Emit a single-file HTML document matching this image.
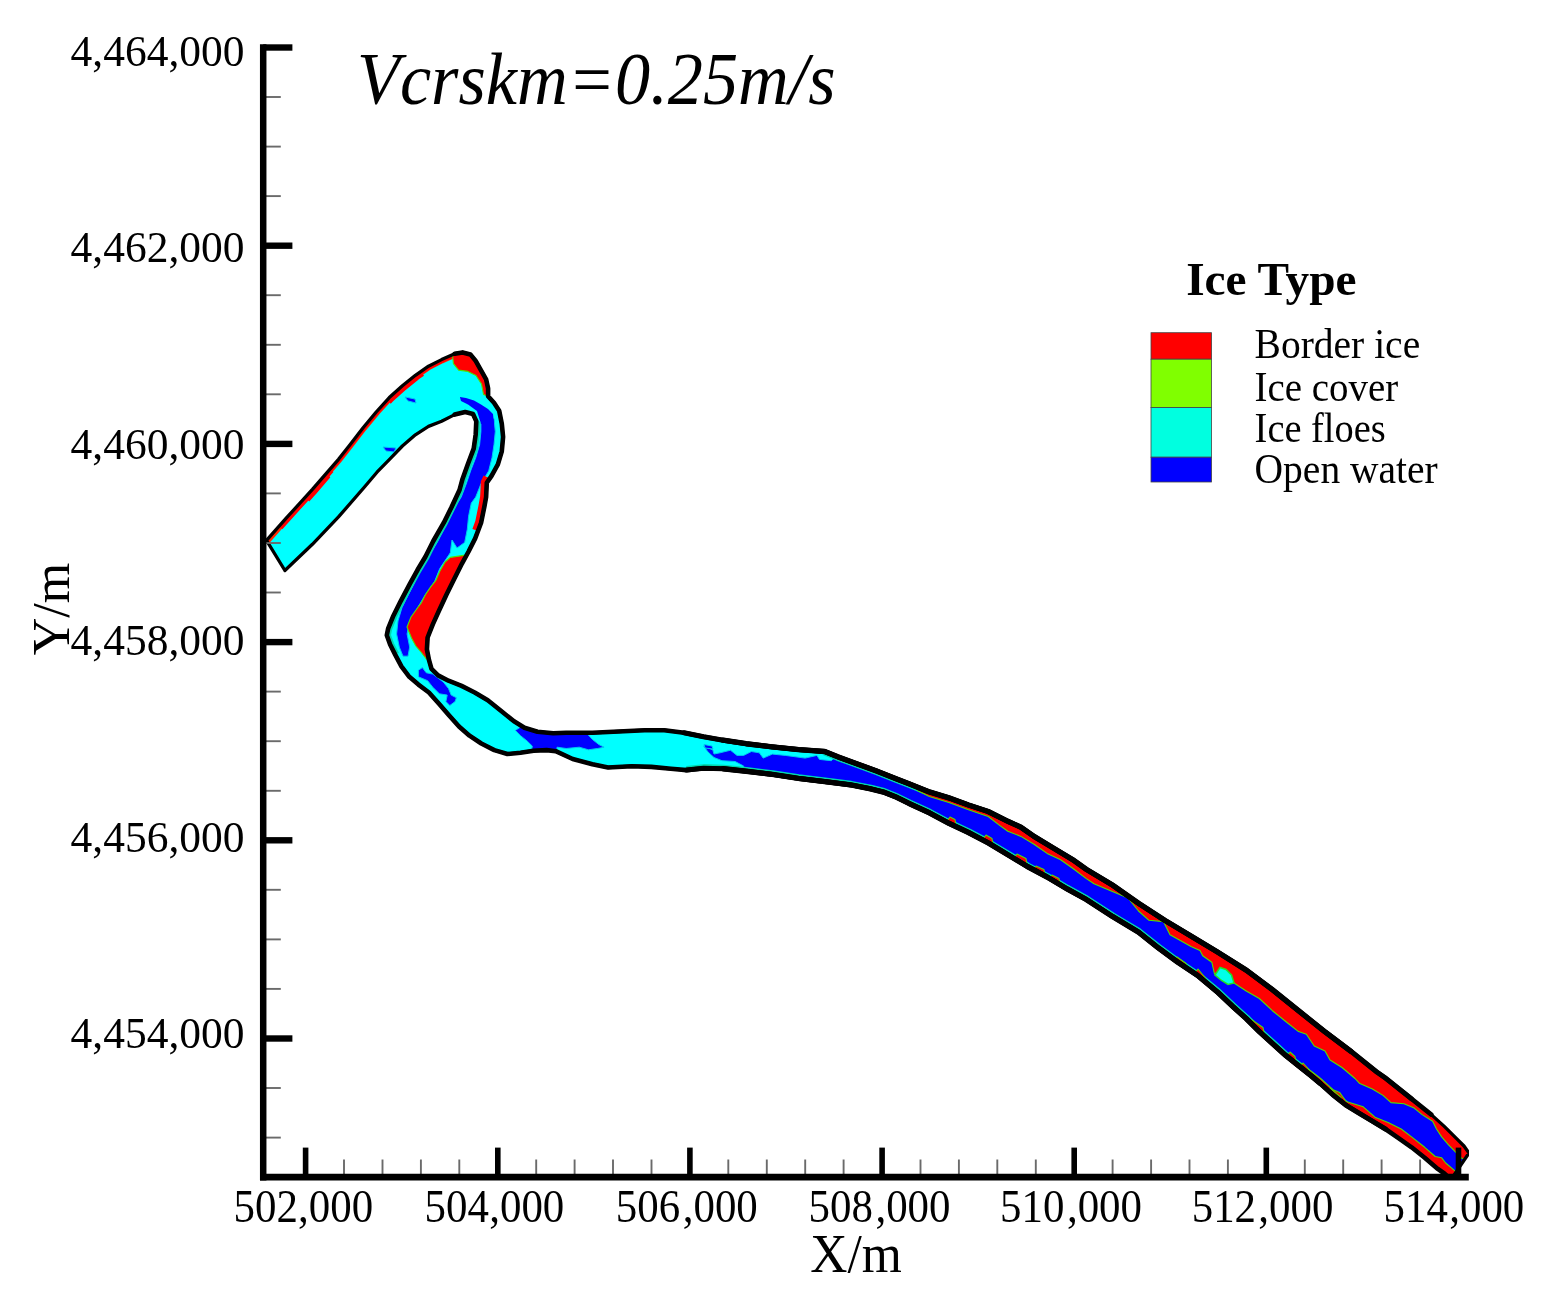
<!DOCTYPE html>
<html lang="en"><head><meta charset="utf-8"><title>Ice Type Vcrskm=0.25m/s</title>
<style>html,body{margin:0;padding:0;background:#fff}svg{display:block}</style></head>
<body>
<svg width="1550" height="1299" viewBox="0 0 1550 1299">
<defs>
<clipPath id="plot"><rect x="263" y="40" width="1206" height="1137"/></clipPath>
<clipPath id="riv"><path d="M266.5,540.4 L286.2,518.2 L312.4,489.4 L338.5,459.3 L350.0,444.7 L363.1,427.7 L376.2,412.0 L389.3,397.6 L402.4,385.8 L415.4,375.3 L428.5,366.2 L441.6,359.6 L454.7,353.7 L462.6,352.4 L470.4,354.4 L475.7,360.9 L480.9,370.1 L486.1,379.3 L488.1,388.4 L488.1,396.3 L494.0,402.8 L499.2,410.7 L501.8,423.8 L503.1,436.9 L501.8,451.3 L497.9,464.3 L491.4,476.1 L486.8,482.7 L486.1,497.1 L484.3,507.0 L481.1,522.7 L475.2,538.4 L468.6,551.5 L462.1,563.3 L454.2,579.0 L446.4,594.7 L438.5,611.7 L432.8,624.4 L427.6,637.5 L426.9,649.3 L428.9,659.7 L431.5,668.9 L438.1,675.4 L448.5,680.7 L461.6,685.9 L474.7,692.5 L487.8,700.3 L500.9,710.8 L514.0,721.3 L524.5,727.8 L537.5,731.7 L553.2,733.3 L566.2,732.8 L592.4,732.8 L618.5,731.5 L644.7,730.2 L664.3,730.2 L684.0,732.8 L703.6,736.8 L723.2,740.2 L746.2,743.7 L772.4,746.9 L798.5,749.6 L824.7,751.5 L837.8,756.8 L857.4,764.0 L877.1,771.2 L896.7,779.0 L909.6,784.0 L929.3,791.9 L948.9,797.8 L968.5,805.0 L988.2,811.5 L1007.8,821.3 L1020.9,827.2 L1034.0,836.4 L1053.6,848.2 L1073.2,860.0 L1086.2,869.3 L1112.4,885.0 L1138.5,903.3 L1164.7,920.3 L1190.9,936.0 L1217.0,951.7 L1246.2,970.1 L1272.4,989.7 L1298.5,1010.7 L1324.7,1031.6 L1350.9,1051.3 L1377.1,1072.2 L1385.4,1078.0 L1411.6,1098.9 L1431.3,1114.6 L1444.3,1126.4 L1456.1,1138.2 L1464.0,1146.0 L1469.0,1153.0 L1451.0,1179.5 L1444.3,1173.5 L1437.8,1168.9 L1424.7,1157.8 L1411.6,1147.3 L1398.5,1138.2 L1385.4,1129.0 L1372.4,1121.2 L1359.3,1113.3 L1346.2,1105.4 L1333.1,1095.0 L1320.0,1083.2 L1311.6,1076.1 L1298.5,1065.7 L1285.4,1055.2 L1272.4,1043.4 L1259.3,1031.6 L1246.2,1018.5 L1233.1,1006.8 L1218.0,992.5 L1197.4,975.3 L1177.8,962.2 L1158.2,947.8 L1138.5,932.1 L1112.4,916.4 L1086.2,899.4 L1066.7,888.7 L1047.1,877.0 L1027.4,866.5 L1007.8,854.7 L988.2,842.9 L968.5,832.5 L948.9,823.3 L929.3,812.8 L909.6,803.7 L896.7,797.3 L883.6,792.1 L870.5,788.8 L850.9,784.9 L824.7,781.6 L798.5,778.4 L772.4,774.4 L746.2,771.2 L723.2,768.8 L703.6,768.2 L686.6,770.1 L670.9,768.8 L651.3,766.9 L631.6,766.2 L608.0,767.5 L592.4,764.2 L572.7,759.0 L555.7,751.2 L546.7,750.1 L533.6,750.7 L520.5,752.7 L507.4,754.0 L494.3,750.1 L481.3,743.5 L469.5,735.7 L459.0,726.5 L448.5,714.7 L439.4,704.2 L428.9,692.5 L418.4,684.6 L409.3,676.8 L401.4,666.3 L395.3,654.9 L390.1,644.5 L386.8,635.3 L388.1,628.7 L393.4,615.7 L400.6,601.3 L409.7,584.2 L417.6,569.8 L425.4,556.8 L433.3,541.0 L443.8,522.7 L451.6,507.0 L459.5,490.0 L462.6,478.7 L467.8,464.3 L473.7,448.6 L475.7,434.2 L476.3,421.2 L473.0,414.0 L465.2,412.0 L454.7,414.6 L441.6,421.2 L428.5,426.4 L415.4,434.8 L402.4,446.0 L390.5,458.3 L377.0,472.2 L364.7,486.8 L338.5,516.9 L312.4,544.3 L284.9,570.5Z"/></clipPath>
</defs>
<rect width="100%" height="100%" fill="#fff"/>
<g clip-path="url(#plot)">
<path d="M266.5,540.4 L286.2,518.2 L312.4,489.4 L338.5,459.3 L350.0,444.7 L363.1,427.7 L376.2,412.0 L389.3,397.6 L402.4,385.8 L415.4,375.3 L428.5,366.2 L441.6,359.6 L454.7,353.7 L462.6,352.4 L470.4,354.4 L475.7,360.9 L480.9,370.1 L486.1,379.3 L488.1,388.4 L488.1,396.3 L494.0,402.8 L499.2,410.7 L501.8,423.8 L503.1,436.9 L501.8,451.3 L497.9,464.3 L491.4,476.1 L486.8,482.7 L486.1,497.1 L484.3,507.0 L481.1,522.7 L475.2,538.4 L468.6,551.5 L462.1,563.3 L454.2,579.0 L446.4,594.7 L438.5,611.7 L432.8,624.4 L427.6,637.5 L426.9,649.3 L428.9,659.7 L431.5,668.9 L438.1,675.4 L448.5,680.7 L461.6,685.9 L474.7,692.5 L487.8,700.3 L500.9,710.8 L514.0,721.3 L524.5,727.8 L537.5,731.7 L553.2,733.3 L566.2,732.8 L592.4,732.8 L618.5,731.5 L644.7,730.2 L664.3,730.2 L684.0,732.8 L703.6,736.8 L723.2,740.2 L746.2,743.7 L772.4,746.9 L798.5,749.6 L824.7,751.5 L837.8,756.8 L857.4,764.0 L877.1,771.2 L896.7,779.0 L909.6,784.0 L929.3,791.9 L948.9,797.8 L968.5,805.0 L988.2,811.5 L1007.8,821.3 L1020.9,827.2 L1034.0,836.4 L1053.6,848.2 L1073.2,860.0 L1086.2,869.3 L1112.4,885.0 L1138.5,903.3 L1164.7,920.3 L1190.9,936.0 L1217.0,951.7 L1246.2,970.1 L1272.4,989.7 L1298.5,1010.7 L1324.7,1031.6 L1350.9,1051.3 L1377.1,1072.2 L1385.4,1078.0 L1411.6,1098.9 L1431.3,1114.6 L1444.3,1126.4 L1456.1,1138.2 L1464.0,1146.0 L1469.0,1153.0 L1451.0,1179.5 L1444.3,1173.5 L1437.8,1168.9 L1424.7,1157.8 L1411.6,1147.3 L1398.5,1138.2 L1385.4,1129.0 L1372.4,1121.2 L1359.3,1113.3 L1346.2,1105.4 L1333.1,1095.0 L1320.0,1083.2 L1311.6,1076.1 L1298.5,1065.7 L1285.4,1055.2 L1272.4,1043.4 L1259.3,1031.6 L1246.2,1018.5 L1233.1,1006.8 L1218.0,992.5 L1197.4,975.3 L1177.8,962.2 L1158.2,947.8 L1138.5,932.1 L1112.4,916.4 L1086.2,899.4 L1066.7,888.7 L1047.1,877.0 L1027.4,866.5 L1007.8,854.7 L988.2,842.9 L968.5,832.5 L948.9,823.3 L929.3,812.8 L909.6,803.7 L896.7,797.3 L883.6,792.1 L870.5,788.8 L850.9,784.9 L824.7,781.6 L798.5,778.4 L772.4,774.4 L746.2,771.2 L723.2,768.8 L703.6,768.2 L686.6,770.1 L670.9,768.8 L651.3,766.9 L631.6,766.2 L608.0,767.5 L592.4,764.2 L572.7,759.0 L555.7,751.2 L546.7,750.1 L533.6,750.7 L520.5,752.7 L507.4,754.0 L494.3,750.1 L481.3,743.5 L469.5,735.7 L459.0,726.5 L448.5,714.7 L439.4,704.2 L428.9,692.5 L418.4,684.6 L409.3,676.8 L401.4,666.3 L395.3,654.9 L390.1,644.5 L386.8,635.3 L388.1,628.7 L393.4,615.7 L400.6,601.3 L409.7,584.2 L417.6,569.8 L425.4,556.8 L433.3,541.0 L443.8,522.7 L451.6,507.0 L459.5,490.0 L462.6,478.7 L467.8,464.3 L473.7,448.6 L475.7,434.2 L476.3,421.2 L473.0,414.0 L465.2,412.0 L454.7,414.6 L441.6,421.2 L428.5,426.4 L415.4,434.8 L402.4,446.0 L390.5,458.3 L377.0,472.2 L364.7,486.8 L338.5,516.9 L312.4,544.3 L284.9,570.5Z" fill="#00ffff"/>
<g clip-path="url(#riv)">
<path d="M480.9,418.5 L480.9,431.6 L479.6,444.7 L475.7,457.8 L470.6,470.9 L466.2,484.0 L461.2,497.1 L457.5,503.1 L450.3,516.2 L443.8,529.3 L437.2,542.4 L430.7,552.8 L421.5,568.5 L415.0,581.6 L408.4,594.7 L401.9,607.8 L398.0,620.9 L396.6,634.0 L399.3,647.1 L403.0,656.2 L408.0,656.2 L409.7,647.1 L407.1,634.0 L409.7,620.9 L417.6,607.8 L425.4,594.7 L434.6,581.6 L439.8,568.5 L450.3,552.8 L452.0,540.0 L457.0,548.0 L464.7,542.4 L467.3,529.3 L468.6,516.2 L471.3,503.1 L475.7,497.1 L480.9,484.0 L488.7,470.9 L492.0,457.8 L494.0,444.7 L495.3,431.6 L494.0,418.5Z" fill="#0000ff" stroke="#00c8f0" stroke-width="1" stroke-linejoin="round"/>
<path d="M459.9,397.0 L466.0,398.0 L474.0,400.5 L481.0,404.5 L488.0,409.0 L493.0,414.0 L494.0,424.0 L481.0,424.0 L477.0,411.0 L468.0,404.5 L461.0,401.0Z" fill="#0000ff"/>
<path d="M418.4,670.2 L422.4,667.6 L426.3,672.8 L432.8,674.1 L443.3,682.0 L448.5,688.5 L451.2,695.1 L456.4,697.7 L455.1,701.6 L449.8,705.5 L445.9,701.6 L447.2,695.1 L439.4,693.8 L432.8,687.2 L427.6,680.7 L418.4,676.8Z" fill="#0000ff" stroke="#00c8f0" stroke-width="1" stroke-linejoin="round"/>
<path d="M515.3,730.4 L525.0,724.0 L540.0,724.0 L580.0,726.0 L592.4,739.4 L598.9,744.6 L604.1,747.2 L597.6,748.5 L588.4,749.8 L579.3,747.2 L566.2,748.5 L557.0,747.2 L557.0,760.0 L530.0,760.0 L532.3,746.1 L527.0,740.9 L520.5,735.7Z" fill="#0000ff" stroke="#00c8f0" stroke-width="1" stroke-linejoin="round"/>
<path d="M703.6,746.0 L712.8,749.8 L714.0,754.0 L720.0,752.8 L730.5,750.2 L737.0,755.4 L743.6,755.4 L751.4,751.5 L759.3,752.8 L763.2,758.1 L772.4,754.1 L785.4,755.4 L805.1,758.1 L816.9,755.4 L819.5,759.4 L831.3,760.7 L833.9,758.1 L850.9,763.3 L860.0,740.0 L1000.0,780.0 L1200.0,900.0 L1480.0,1110.0 L1480.0,1200.0 L1440.0,1200.0 L1200.0,1010.0 L1000.0,880.0 L884.0,810.0 L830.0,790.0 L770.0,780.0 L744.0,775.0 L743.6,766.0 L735.0,761.5 L722.0,760.7 L714.0,757.5 L708.0,752.0Z" fill="#0000ff" stroke="#00c8f0" stroke-width="1" stroke-linejoin="round"/>
<path d="M405.0,397.0 L415.0,399.0 L416.0,403.0 L408.0,401.0Z" fill="#0000ff" stroke="#00c8f0" stroke-width="1" stroke-linejoin="round"/>
<path d="M383.0,447.0 L396.0,448.0 L394.0,452.0 L386.0,451.0Z" fill="#0000ff" stroke="#00c8f0" stroke-width="1" stroke-linejoin="round"/>
<path d="M704.0,744.5 L712.0,746.0 L713.0,749.0 L705.0,748.0Z" fill="#0000ff" stroke="#00c8f0" stroke-width="1" stroke-linejoin="round"/>
<path d="M686.6,770.1 L703.6,768.2 L723.2,768.8 L746.2,771.2 L772.4,774.4 L798.5,778.4 L824.7,781.6 L850.9,784.9 L870.5,788.8 L883.6,792.1 L896.7,797.3 L909.6,803.7 L929.3,812.8 L948.9,823.3 L968.5,832.5 L988.2,842.9 L1007.8,854.7 L1027.4,866.5 L1047.1,877.0 L1066.7,888.7 L1086.2,899.4 L1112.4,916.4 L1138.5,932.1 L1158.2,947.8 L1177.8,962.2 L1197.4,975.3 L1218.0,992.5 L1233.1,1006.8 L1246.2,1018.5 L1259.3,1031.6 L1272.4,1043.4 L1285.4,1055.2 L1298.5,1065.7 L1311.6,1076.1 L1320.0,1083.2 L1333.1,1095.0 L1346.2,1105.4 L1359.3,1113.3 L1372.4,1121.2 L1385.4,1129.0 L1398.5,1138.2 L1411.6,1147.3 L1424.7,1157.8 L1437.8,1168.9 L1444.3,1173.5 L1451.0,1179.5" fill="none" stroke="#00d8b0" stroke-width="8.2" stroke-linejoin="round"/>
<path d="M824.7,751.5 L837.8,756.8 L857.4,764.0 L877.1,771.2 L896.7,779.0 L909.6,784.0 L929.3,791.9" fill="none" stroke="#00d8b0" stroke-width="8.2" stroke-linejoin="round"/>
<path d="M476.3,421.2 L475.7,434.2 L473.7,448.6 L467.8,464.3 L462.6,478.7 L459.5,490.0 L451.6,507.0 L443.8,522.7 L433.3,541.0 L425.4,556.8 L417.6,569.8 L409.7,584.2 L400.6,601.3 L393.4,615.7 L388.1,628.7 L386.8,635.3 L390.1,644.5 L395.3,654.9" fill="none" stroke="#00d8b0" stroke-width="8.2" stroke-linejoin="round"/>
<g fill="none" stroke="#ff0000" stroke-linecap="butt">
<path d="M266.5,540.4 L286.2,518.2 L312.4,489.4 L338.5,459.3 L350.0,444.7 L363.1,427.7 L376.2,412.0 L389.3,397.6 L402.4,385.8 L415.4,375.3 L428.5,366.2 L441.6,359.6 L454.7,353.7" stroke="#ff2800" stroke-width="7.8"/>
<path d="M279.0,526.3 L286.2,518.2 L312.4,489.4 L330.0,469.0" stroke-width="9"/>
<path d="M305.0,497.5 L312.4,489.4 L326.0,473.5" stroke-width="11.5"/>
<path d="M330.0,469.0 L338.5,459.3 L350.0,444.7 L363.1,427.7 L376.2,412.0 L389.3,397.6" stroke-width="6"/>
<path d="M387.0,400.0 L389.3,397.6 L402.4,385.8 L415.4,375.3 L421.0,371.4" stroke-width="10.5"/>
<path d="M421.0,371.4 L428.5,366.2 L441.6,359.6 L454.0,354.0" stroke-width="6.6"/>
<path d="M489.0,478.0 L486.8,482.7 L486.1,497.1 L484.3,507.0 L481.1,522.7 L478.0,531.0" stroke-width="12"/>
</g>
<path d="M450.3,557.4 L463.4,555.4 L475.0,556.0 L445.0,620.0 L432.0,660.0 L426.3,659.0 L421.0,652.0 L415.8,646.0 L411.5,638.0 L407.0,627.0 L411.0,617.0 L417.6,607.8 L421.5,602.6 L425.4,594.7 L430.7,586.9 L435.9,580.3 L439.8,571.2 L445.1,562.0Z" fill="#ff0000" stroke="#50e000" stroke-width="1.1" stroke-linejoin="round"/>
<path d="M453.4,363.6 L452.0,350.0 L470.0,346.0 L484.0,360.0 L494.0,382.0 L490.0,397.0 L483.5,394.5 L481.5,384.0 L476.0,375.5 L467.8,371.4 L458.6,370.1Z" fill="#ff0000" stroke="#50e000" stroke-width="1.1" stroke-linejoin="round"/>
<path d="M917.5,790.5 L929.3,796.5 L948.9,802.5 L968.5,809.8 L988.2,816.5 L998.6,824.6 L1007.8,831.2 L1020.9,836.4 L1034.0,844.2 L1047.1,853.4 L1060.2,859.5 L1073.0,868.5 L1086.0,878.4 L1094.0,883.7 L1112.4,891.5 L1128.0,898.0 L1138.5,911.0 L1149.0,920.3 L1163.4,921.6 L1170.0,934.7 L1191.0,946.5 L1200.0,950.4 L1202.7,955.7 L1211.8,962.2 L1214.5,974.0 L1221.0,970.5 L1234.0,983.0 L1246.2,991.0 L1259.3,998.5 L1272.4,1010.7 L1285.4,1021.2 L1298.5,1031.6 L1306.4,1034.2 L1314.2,1046.0 L1325.0,1051.0 L1330.0,1060.0 L1342.0,1067.5 L1355.0,1078.5 L1359.3,1083.2 L1372.4,1089.0 L1383.0,1095.4 L1391.0,1102.6 L1404.0,1103.8 L1414.2,1108.1 L1422.1,1114.6 L1432.6,1121.2 L1436.5,1129.0 L1441.7,1136.9 L1448.3,1144.7 L1456.1,1152.6 L1462.0,1158.5 L1480.0,1161.0 L1480.0,1100.0 L1110.0,860.0 L994.0,795.0 L917.5,775.0Z" fill="#ff0000" stroke="#50e000" stroke-width="1.1" stroke-linejoin="round"/>
<path d="M1300.0,1063.0 L1320.0,1078.0 L1333.1,1089.7 L1339.6,1092.4 L1346.2,1101.5 L1363.2,1106.8 L1375.0,1117.2 L1388.1,1122.5 L1401.2,1129.0 L1411.6,1136.9 L1424.7,1147.3 L1435.2,1156.5 L1441.7,1157.8 L1445.7,1163.0 L1453.5,1169.6 L1462.0,1178.0 L1462.0,1195.0 L1440.0,1195.0 L1300.0,1085.0Z" fill="#ff0000" stroke="#50e000" stroke-width="1.1" stroke-linejoin="round"/>
<path d="M950.0,817.0 L955.0,819.5 L956.0,825.0 L947.0,821.0Z" fill="#ff0000" stroke="#50e000" stroke-width="1.1" stroke-linejoin="round"/>
<path d="M986.0,835.0 L992.0,838.5 L993.0,844.0 L983.0,839.0Z" fill="#ff0000" stroke="#50e000" stroke-width="1.1" stroke-linejoin="round"/>
<path d="M1017.0,854.0 L1026.0,858.5 L1027.0,864.0 L1014.0,858.0Z" fill="#ff0000" stroke="#50e000" stroke-width="1.1" stroke-linejoin="round"/>
<path d="M1036.0,866.0 L1044.0,869.5 L1045.0,875.0 L1033.0,870.0Z" fill="#ff0000" stroke="#50e000" stroke-width="1.1" stroke-linejoin="round"/>
<path d="M1052.0,875.0 L1059.0,878.5 L1060.0,884.0 L1049.0,879.0Z" fill="#ff0000" stroke="#50e000" stroke-width="1.1" stroke-linejoin="round"/>
<path d="M1177.0,957.0 L1186.0,963.5 L1187.0,969.0 L1174.0,961.0Z" fill="#ff0000" stroke="#50e000" stroke-width="1.1" stroke-linejoin="round"/>
<path d="M1198.0,969.0 L1205.0,977.5 L1206.0,983.0 L1195.0,973.0Z" fill="#ff0000" stroke="#50e000" stroke-width="1.1" stroke-linejoin="round"/>
<path d="M1252.0,1020.0 L1263.0,1027.5 L1264.0,1033.0 L1249.0,1024.0Z" fill="#ff0000" stroke="#50e000" stroke-width="1.1" stroke-linejoin="round"/>
<path d="M1290.0,1052.0 L1295.0,1056.5 L1296.0,1062.0 L1287.0,1056.0Z" fill="#ff0000" stroke="#50e000" stroke-width="1.1" stroke-linejoin="round"/>
<path d="M1303.0,1063.0 L1308.0,1068.5 L1309.0,1074.0 L1300.0,1067.0Z" fill="#ff0000" stroke="#50e000" stroke-width="1.1" stroke-linejoin="round"/>
<path d="M1330.0,1088.0 L1341.0,1097.5 L1342.0,1103.0 L1327.0,1092.0Z" fill="#ff0000" stroke="#50e000" stroke-width="1.1" stroke-linejoin="round"/>
<path d="M1215,975 L1220,967.5 L1226,969.5 L1231.5,975 L1234,983 L1228,984.5 L1221.5,980.5Z" fill="#00ffe8" stroke="#20e020" stroke-width="1.5"/>
</g>
<path d="M266.5,540.4 L286.2,518.2 L312.4,489.4 L338.5,459.3 L350.0,444.7 L363.1,427.7 L376.2,412.0 L389.3,397.6 L402.4,385.8 L415.4,375.3 L428.5,366.2 L441.6,359.6 L454.7,353.7 L462.6,352.4 L470.4,354.4 L475.7,360.9 L480.9,370.1 L486.1,379.3 L488.1,388.4 L488.1,396.3 L494.0,402.8 L499.2,410.7 L501.8,423.8 L503.1,436.9 L501.8,451.3 L497.9,464.3 L491.4,476.1 L486.8,482.7 L486.1,497.1 L484.3,507.0 L481.1,522.7 L475.2,538.4 L468.6,551.5 L462.1,563.3 L454.2,579.0 L446.4,594.7 L438.5,611.7 L432.8,624.4 L427.6,637.5 L426.9,649.3 L428.9,659.7 L431.5,668.9 L438.1,675.4 L448.5,680.7 L461.6,685.9 L474.7,692.5 L487.8,700.3 L500.9,710.8 L514.0,721.3 L524.5,727.8 L537.5,731.7 L553.2,733.3 L566.2,732.8 L592.4,732.8 L618.5,731.5 L644.7,730.2 L664.3,730.2 L684.0,732.8 L703.6,736.8 L723.2,740.2 L746.2,743.7 L772.4,746.9 L798.5,749.6 L824.7,751.5 L837.8,756.8 L857.4,764.0 L877.1,771.2 L896.7,779.0 L909.6,784.0 L929.3,791.9 L948.9,797.8 L968.5,805.0 L988.2,811.5 L1007.8,821.3 L1020.9,827.2 L1034.0,836.4 L1053.6,848.2 L1073.2,860.0 L1086.2,869.3 L1112.4,885.0 L1138.5,903.3 L1164.7,920.3 L1190.9,936.0 L1217.0,951.7 L1246.2,970.1 L1272.4,989.7 L1298.5,1010.7 L1324.7,1031.6 L1350.9,1051.3 L1377.1,1072.2 L1385.4,1078.0 L1411.6,1098.9 L1431.3,1114.6 L1444.3,1126.4 L1456.1,1138.2 L1464.0,1146.0 L1469.0,1153.0 L1451.0,1179.5 L1444.3,1173.5 L1437.8,1168.9 L1424.7,1157.8 L1411.6,1147.3 L1398.5,1138.2 L1385.4,1129.0 L1372.4,1121.2 L1359.3,1113.3 L1346.2,1105.4 L1333.1,1095.0 L1320.0,1083.2 L1311.6,1076.1 L1298.5,1065.7 L1285.4,1055.2 L1272.4,1043.4 L1259.3,1031.6 L1246.2,1018.5 L1233.1,1006.8 L1218.0,992.5 L1197.4,975.3 L1177.8,962.2 L1158.2,947.8 L1138.5,932.1 L1112.4,916.4 L1086.2,899.4 L1066.7,888.7 L1047.1,877.0 L1027.4,866.5 L1007.8,854.7 L988.2,842.9 L968.5,832.5 L948.9,823.3 L929.3,812.8 L909.6,803.7 L896.7,797.3 L883.6,792.1 L870.5,788.8 L850.9,784.9 L824.7,781.6 L798.5,778.4 L772.4,774.4 L746.2,771.2 L723.2,768.8 L703.6,768.2 L686.6,770.1 L670.9,768.8 L651.3,766.9 L631.6,766.2 L608.0,767.5 L592.4,764.2 L572.7,759.0 L555.7,751.2 L546.7,750.1 L533.6,750.7 L520.5,752.7 L507.4,754.0 L494.3,750.1 L481.3,743.5 L469.5,735.7 L459.0,726.5 L448.5,714.7 L439.4,704.2 L428.9,692.5 L418.4,684.6 L409.3,676.8 L401.4,666.3 L395.3,654.9 L390.1,644.5 L386.8,635.3 L388.1,628.7 L393.4,615.7 L400.6,601.3 L409.7,584.2 L417.6,569.8 L425.4,556.8 L433.3,541.0 L443.8,522.7 L451.6,507.0 L459.5,490.0 L462.6,478.7 L467.8,464.3 L473.7,448.6 L475.7,434.2 L476.3,421.2 L473.0,414.0 L465.2,412.0 L454.7,414.6 L441.6,421.2 L428.5,426.4 L415.4,434.8 L402.4,446.0 L390.5,458.3 L377.0,472.2 L364.7,486.8 L338.5,516.9 L312.4,544.3 L284.9,570.5Z" fill="none" stroke="#000" stroke-width="3.3" stroke-linejoin="round"/>
<path d="M454.7,353.7 L462.6,352.4 L470.4,354.4 L475.7,360.9 L480.9,370.1 L486.1,379.3 L488.1,388.4 L488.1,396.3 L494.0,402.8 L499.2,410.7 L501.8,423.8 L503.1,436.9 L501.8,451.3 L497.9,464.3 L491.4,476.1 L486.8,482.7 L486.1,497.1 L484.3,507.0 L481.1,522.7 L475.2,538.4 L468.6,551.5 L462.1,563.3 L454.2,579.0 L446.4,594.7 L438.5,611.7 L432.8,624.4 L427.6,637.5 L426.9,649.3 L428.9,659.7 L431.5,668.9 L438.1,675.4 L448.5,680.7 L461.6,685.9 L474.7,692.5 L487.8,700.3 L500.9,710.8 L514.0,721.3 L524.5,727.8 L537.5,731.7 L553.2,733.3 L566.2,732.8 L592.4,732.8 L618.5,731.5 L644.7,730.2 L664.3,730.2 L684.0,732.8 L703.6,736.8 L723.2,740.2 L746.2,743.7 L772.4,746.9 L798.5,749.6 L824.7,751.5 L837.8,756.8 L857.4,764.0 L877.1,771.2 L896.7,779.0 L909.6,784.0 L929.3,791.9 L948.9,797.8 L968.5,805.0 L988.2,811.5 L1007.8,821.3 L1020.9,827.2 L1034.0,836.4 L1053.6,848.2 L1073.2,860.0 L1086.2,869.3 L1112.4,885.0 L1138.5,903.3 L1164.7,920.3 L1190.9,936.0 L1217.0,951.7 L1246.2,970.1 L1272.4,989.7 L1298.5,1010.7 L1324.7,1031.6 L1350.9,1051.3 L1377.1,1072.2 L1385.4,1078.0 L1411.6,1098.9 L1431.3,1114.6" fill="none" stroke="#000" stroke-width="4.6" stroke-linejoin="round" stroke-linecap="round"/>
<path d="M454.7,414.6 L465.2,412.0 L473.0,414.0 L476.3,421.2 L475.7,434.2 L473.7,448.6 L467.8,464.3 L462.6,478.7 L459.5,490.0 L451.6,507.0 L443.8,522.7 L433.3,541.0 L425.4,556.8 L417.6,569.8 L409.7,584.2 L400.6,601.3 L393.4,615.7 L388.1,628.7 L386.8,635.3 L390.1,644.5 L395.3,654.9 L401.4,666.3 L409.3,676.8 L418.4,684.6 L428.9,692.5 L439.4,704.2 L448.5,714.7 L459.0,726.5 L469.5,735.7 L481.3,743.5 L494.3,750.1 L507.4,754.0 L520.5,752.7 L533.6,750.7 L546.7,750.1 L555.7,751.2 L572.7,759.0 L592.4,764.2 L608.0,767.5 L631.6,766.2 L651.3,766.9 L670.9,768.8 L686.6,770.1 L703.6,768.2 L723.2,768.8 L746.2,771.2 L772.4,774.4 L798.5,778.4 L824.7,781.6 L850.9,784.9 L870.5,788.8 L883.6,792.1 L896.7,797.3 L909.6,803.7 L929.3,812.8 L948.9,823.3 L968.5,832.5 L988.2,842.9 L1007.8,854.7 L1027.4,866.5 L1047.1,877.0 L1066.7,888.7 L1086.2,899.4 L1112.4,916.4 L1138.5,932.1 L1158.2,947.8 L1177.8,962.2 L1197.4,975.3 L1218.0,992.5 L1233.1,1006.8 L1246.2,1018.5 L1259.3,1031.6 L1272.4,1043.4 L1285.4,1055.2 L1298.5,1065.7 L1311.6,1076.1 L1320.0,1083.2 L1333.1,1095.0 L1346.2,1105.4 L1359.3,1113.3 L1372.4,1121.2 L1385.4,1129.0 L1398.5,1138.2 L1411.6,1147.3 L1424.7,1157.8 L1437.8,1168.9 L1444.3,1173.5 L1451.0,1179.5" fill="none" stroke="#000" stroke-width="4.6" stroke-linejoin="round" stroke-linecap="round"/>
<path d="M684.0,732.8 L703.6,736.8 L723.2,740.2 L746.2,743.7 L772.4,746.9 L798.5,749.6 L824.7,751.5 L837.8,756.8 L857.4,764.0 L877.1,771.2 L896.7,779.0 L909.6,784.0 L929.3,791.9 L948.9,797.8 L968.5,805.0 L988.2,811.5 L1007.8,821.3 L1020.9,827.2 L1034.0,836.4 L1053.6,848.2 L1073.2,860.0 L1086.2,869.3 L1112.4,885.0 L1138.5,903.3 L1164.7,920.3 L1190.9,936.0 L1217.0,951.7 L1246.2,970.1 L1272.4,989.7 L1298.5,1010.7 L1324.7,1031.6 L1350.9,1051.3 L1377.1,1072.2 L1385.4,1078.0 L1411.6,1098.9" fill="none" stroke="#000" stroke-width="5.0" stroke-linejoin="round" stroke-linecap="round"/>
<path d="M686.6,770.1 L703.6,768.2 L723.2,768.8 L746.2,771.2 L772.4,774.4 L798.5,778.4 L824.7,781.6 L850.9,784.9 L870.5,788.8 L883.6,792.1 L896.7,797.3 L909.6,803.7 L929.3,812.8 L948.9,823.3 L968.5,832.5 L988.2,842.9 L1007.8,854.7 L1027.4,866.5 L1047.1,877.0 L1066.7,888.7 L1086.2,899.4 L1112.4,916.4 L1138.5,932.1 L1158.2,947.8 L1177.8,962.2 L1197.4,975.3 L1218.0,992.5 L1233.1,1006.8 L1246.2,1018.5 L1259.3,1031.6 L1272.4,1043.4 L1285.4,1055.2 L1298.5,1065.7 L1311.6,1076.1 L1320.0,1083.2 L1333.1,1095.0 L1346.2,1105.4 L1359.3,1113.3 L1372.4,1121.2 L1385.4,1129.0" fill="none" stroke="#000" stroke-width="5.0" stroke-linejoin="round" stroke-linecap="round"/>
<path d="M723.2,740.2 L746.2,743.7 L772.4,746.9 L798.5,749.6 L824.7,751.5 L837.8,756.8 L857.4,764.0 L877.1,771.2 L896.7,779.0 L909.6,784.0 L929.3,791.9 L948.9,797.8 L968.5,805.0 L988.2,811.5 L1007.8,821.3 L1020.9,827.2 L1034.0,836.4 L1053.6,848.2 L1073.2,860.0 L1086.2,869.3 L1112.4,885.0 L1138.5,903.3 L1164.7,920.3 L1190.9,936.0 L1217.0,951.7 L1246.2,970.1 L1272.4,989.7 L1298.5,1010.7 L1324.7,1031.6 L1350.9,1051.3" fill="none" stroke="#000" stroke-width="5.4" stroke-linejoin="round" stroke-linecap="round"/>
<path d="M723.2,768.8 L746.2,771.2 L772.4,774.4 L798.5,778.4 L824.7,781.6 L850.9,784.9 L870.5,788.8 L883.6,792.1 L896.7,797.3 L909.6,803.7 L929.3,812.8 L948.9,823.3 L968.5,832.5 L988.2,842.9 L1007.8,854.7 L1027.4,866.5 L1047.1,877.0 L1066.7,888.7 L1086.2,899.4 L1112.4,916.4 L1138.5,932.1 L1158.2,947.8 L1177.8,962.2 L1197.4,975.3 L1218.0,992.5 L1233.1,1006.8 L1246.2,1018.5 L1259.3,1031.6 L1272.4,1043.4 L1285.4,1055.2 L1298.5,1065.7 L1311.6,1076.1 L1320.0,1083.2" fill="none" stroke="#000" stroke-width="5.4" stroke-linejoin="round" stroke-linecap="round"/>
</g>
<g stroke="#000" fill="none">
<line x1="263.2" x2="280.8" y1="97.0" y2="97.0" stroke="#6a6a6a" stroke-width="1.9"/>
<line x1="263.2" x2="280.8" y1="146.6" y2="146.6" stroke="#6a6a6a" stroke-width="1.9"/>
<line x1="263.2" x2="280.8" y1="196.1" y2="196.1" stroke="#6a6a6a" stroke-width="1.9"/>
<line x1="263.2" x2="280.8" y1="295.2" y2="295.2" stroke="#6a6a6a" stroke-width="1.9"/>
<line x1="263.2" x2="280.8" y1="344.8" y2="344.8" stroke="#6a6a6a" stroke-width="1.9"/>
<line x1="263.2" x2="280.8" y1="394.3" y2="394.3" stroke="#6a6a6a" stroke-width="1.9"/>
<line x1="263.2" x2="280.8" y1="493.4" y2="493.4" stroke="#6a6a6a" stroke-width="1.9"/>
<line x1="263.2" x2="280.8" y1="543.0" y2="543.0" stroke="#6a6a6a" stroke-width="1.9"/>
<line x1="263.2" x2="280.8" y1="592.5" y2="592.5" stroke="#6a6a6a" stroke-width="1.9"/>
<line x1="263.2" x2="280.8" y1="691.6" y2="691.6" stroke="#6a6a6a" stroke-width="1.9"/>
<line x1="263.2" x2="280.8" y1="741.2" y2="741.2" stroke="#6a6a6a" stroke-width="1.9"/>
<line x1="263.2" x2="280.8" y1="790.8" y2="790.8" stroke="#6a6a6a" stroke-width="1.9"/>
<line x1="263.2" x2="280.8" y1="889.8" y2="889.8" stroke="#6a6a6a" stroke-width="1.9"/>
<line x1="263.2" x2="280.8" y1="939.4" y2="939.4" stroke="#6a6a6a" stroke-width="1.9"/>
<line x1="263.2" x2="280.8" y1="988.9" y2="988.9" stroke="#6a6a6a" stroke-width="1.9"/>
<line x1="263.2" x2="280.8" y1="1088.0" y2="1088.0" stroke="#6a6a6a" stroke-width="1.9"/>
<line x1="263.2" x2="280.8" y1="1137.6" y2="1137.6" stroke="#6a6a6a" stroke-width="1.9"/>
<line x1="344.0" x2="344.0" y1="1159.5" y2="1177.2" stroke="#6a6a6a" stroke-width="1.9"/>
<line x1="382.5" x2="382.5" y1="1159.5" y2="1177.2" stroke="#6a6a6a" stroke-width="1.9"/>
<line x1="420.9" x2="420.9" y1="1159.5" y2="1177.2" stroke="#6a6a6a" stroke-width="1.9"/>
<line x1="459.3" x2="459.3" y1="1159.5" y2="1177.2" stroke="#6a6a6a" stroke-width="1.9"/>
<line x1="536.2" x2="536.2" y1="1159.5" y2="1177.2" stroke="#6a6a6a" stroke-width="1.9"/>
<line x1="574.6" x2="574.6" y1="1159.5" y2="1177.2" stroke="#6a6a6a" stroke-width="1.9"/>
<line x1="613.0" x2="613.0" y1="1159.5" y2="1177.2" stroke="#6a6a6a" stroke-width="1.9"/>
<line x1="651.5" x2="651.5" y1="1159.5" y2="1177.2" stroke="#6a6a6a" stroke-width="1.9"/>
<line x1="728.3" x2="728.3" y1="1159.5" y2="1177.2" stroke="#6a6a6a" stroke-width="1.9"/>
<line x1="766.8" x2="766.8" y1="1159.5" y2="1177.2" stroke="#6a6a6a" stroke-width="1.9"/>
<line x1="805.2" x2="805.2" y1="1159.5" y2="1177.2" stroke="#6a6a6a" stroke-width="1.9"/>
<line x1="843.6" x2="843.6" y1="1159.5" y2="1177.2" stroke="#6a6a6a" stroke-width="1.9"/>
<line x1="920.5" x2="920.5" y1="1159.5" y2="1177.2" stroke="#6a6a6a" stroke-width="1.9"/>
<line x1="958.9" x2="958.9" y1="1159.5" y2="1177.2" stroke="#6a6a6a" stroke-width="1.9"/>
<line x1="997.3" x2="997.3" y1="1159.5" y2="1177.2" stroke="#6a6a6a" stroke-width="1.9"/>
<line x1="1035.8" x2="1035.8" y1="1159.5" y2="1177.2" stroke="#6a6a6a" stroke-width="1.9"/>
<line x1="1112.6" x2="1112.6" y1="1159.5" y2="1177.2" stroke="#6a6a6a" stroke-width="1.9"/>
<line x1="1151.1" x2="1151.1" y1="1159.5" y2="1177.2" stroke="#6a6a6a" stroke-width="1.9"/>
<line x1="1189.5" x2="1189.5" y1="1159.5" y2="1177.2" stroke="#6a6a6a" stroke-width="1.9"/>
<line x1="1227.9" x2="1227.9" y1="1159.5" y2="1177.2" stroke="#6a6a6a" stroke-width="1.9"/>
<line x1="1304.8" x2="1304.8" y1="1159.5" y2="1177.2" stroke="#6a6a6a" stroke-width="1.9"/>
<line x1="1343.2" x2="1343.2" y1="1159.5" y2="1177.2" stroke="#6a6a6a" stroke-width="1.9"/>
<line x1="1381.6" x2="1381.6" y1="1159.5" y2="1177.2" stroke="#6a6a6a" stroke-width="1.9"/>
<line x1="1420.1" x2="1420.1" y1="1159.5" y2="1177.2" stroke="#6a6a6a" stroke-width="1.9"/>
<line x1="263.2" x2="292.4" y1="47.5" y2="47.5" stroke-width="6.4"/>
<line x1="263.2" x2="292.4" y1="245.7" y2="245.7" stroke-width="6.4"/>
<line x1="263.2" x2="292.4" y1="443.9" y2="443.9" stroke-width="6.4"/>
<line x1="263.2" x2="292.4" y1="642.1" y2="642.1" stroke-width="6.4"/>
<line x1="263.2" x2="292.4" y1="840.3" y2="840.3" stroke-width="6.4"/>
<line x1="263.2" x2="292.4" y1="1038.5" y2="1038.5" stroke-width="6.4"/>
<line x1="305.6" x2="305.6" y1="1147.6" y2="1177.2" stroke-width="5.6"/>
<line x1="497.8" x2="497.8" y1="1147.6" y2="1177.2" stroke-width="5.6"/>
<line x1="689.9" x2="689.9" y1="1147.6" y2="1177.2" stroke-width="5.6"/>
<line x1="882.1" x2="882.1" y1="1147.6" y2="1177.2" stroke-width="5.6"/>
<line x1="1074.2" x2="1074.2" y1="1147.6" y2="1177.2" stroke-width="5.6"/>
<line x1="1266.3" x2="1266.3" y1="1147.6" y2="1177.2" stroke-width="5.6"/>
<line x1="1458.5" x2="1458.5" y1="1147.6" y2="1177.2" stroke-width="5.6"/>
<line x1="263.2" x2="263.2" y1="44.3" y2="1180.5" stroke-width="6.5"/>
<line x1="260" x2="1468.8" y1="1177.2" y2="1177.2" stroke-width="6.8"/>
</g>
<g font-family="'Liberation Serif', 'Times New Roman', serif" fill="#000">
<text transform="translate(244.5,65.7) scale(1.000,1.035)" font-size="43.5" text-anchor="end">4,464,000</text>
<text transform="translate(244.5,262.2) scale(1.000,1.035)" font-size="43.5" text-anchor="end">4,462,000</text>
<text transform="translate(244.5,458.7) scale(1.000,1.035)" font-size="43.5" text-anchor="end">4,460,000</text>
<text transform="translate(244.5,655.2) scale(1.000,1.035)" font-size="43.5" text-anchor="end">4,458,000</text>
<text transform="translate(244.5,851.7) scale(1.000,1.035)" font-size="43.5" text-anchor="end">4,456,000</text>
<text transform="translate(244.5,1048.2) scale(1.000,1.035)" font-size="43.5" text-anchor="end">4,454,000</text>
<text transform="translate(233.5,1222.3) scale(1.000,1.090)" font-size="42.9" text-anchor="start">502<tspan dx="0.2">,000</tspan></text>
<text transform="translate(424.6,1222.3) scale(1.000,1.090)" font-size="42.9" text-anchor="start">504<tspan dx="0.3">,000</tspan></text>
<text transform="translate(615.8,1222.3) scale(1.000,1.090)" font-size="42.9" text-anchor="start">506<tspan dx="2.6">,000</tspan></text>
<text transform="translate(808.6,1222.3) scale(1.000,1.090)" font-size="42.9" text-anchor="start">508<tspan dx="2.5">,000</tspan></text>
<text transform="translate(1000.0,1222.3) scale(1.000,1.090)" font-size="42.9" text-anchor="start">510<tspan dx="2.6">,000</tspan></text>
<text transform="translate(1191.7,1222.3) scale(1.000,1.090)" font-size="42.9" text-anchor="start">512<tspan dx="2.3">,000</tspan></text>
<text transform="translate(1383.5,1222.3) scale(1.000,1.090)" font-size="42.9" text-anchor="start">514<tspan dx="1.4">,000</tspan></text>
<text transform="translate(856.0,1272.0) scale(1.000,1.050)" font-size="51.5" text-anchor="middle">X/m</text>
<text transform="translate(68.5,609) rotate(-90)" font-size="52" text-anchor="middle">Y/m</text>
<text transform="translate(357.0,103.6) scale(0.937,1.000)" font-size="75" text-anchor="start" font-style="italic">Vcrskm=0.25m/s</text>
<text transform="translate(1186.2,295.4) scale(1.000,1.000)" font-size="47.3" text-anchor="start" font-weight="bold">Ice Type</text>
<text transform="translate(1254.6,357.5) scale(1.000,1.065)" font-size="39.5" text-anchor="start">Border ice</text>
<text transform="translate(1254.6,400.7) scale(0.985,1.065)" font-size="39.5" text-anchor="start">Ice cover</text>
<text transform="translate(1254.6,442.4) scale(0.972,1.065)" font-size="39.5" text-anchor="start">Ice floes</text>
<text transform="translate(1254.6,483.3) scale(1.000,1.065)" font-size="39.5" text-anchor="start">Open water</text>
</g>
<g stroke="#444" stroke-width="0.8">
<rect x="1151" y="332.7" width="60.5" height="26.5" fill="#ff0000"/>
<rect x="1151" y="359.2" width="60.5" height="48.4" fill="#80ff00"/>
<rect x="1151" y="407.6" width="60.5" height="49.6" fill="#00ffe0"/>
<rect x="1151" y="457.2" width="60.5" height="24.8" fill="#0000ff"/>
</g>
</svg>
</body></html>
